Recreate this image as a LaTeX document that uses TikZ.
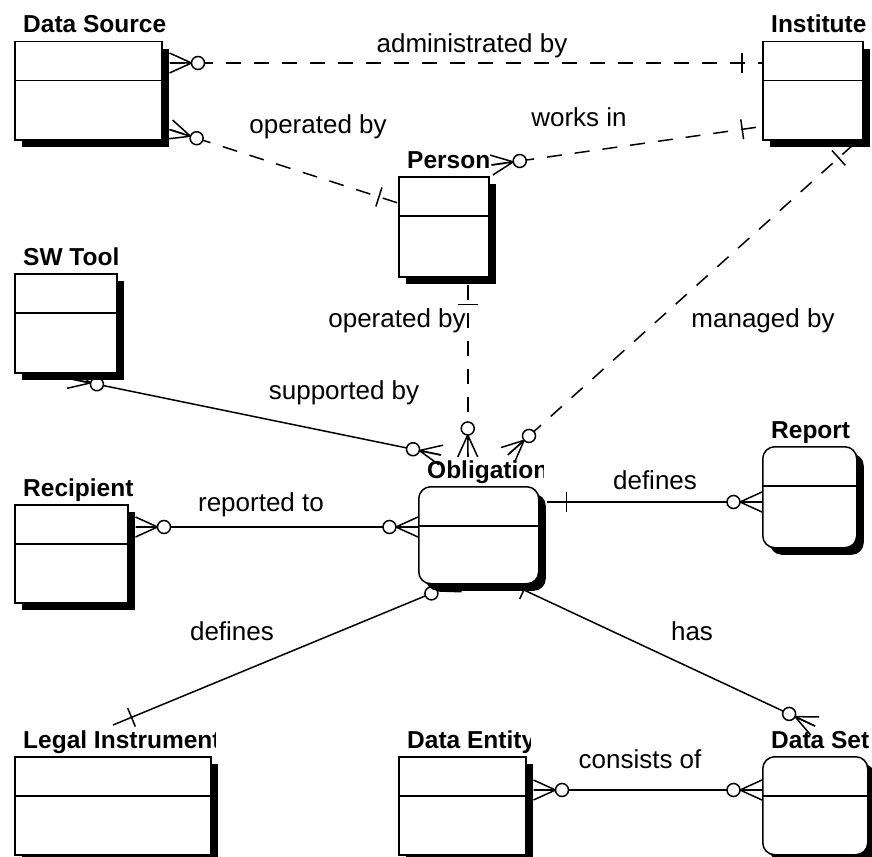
\documentclass[tikz,border=0pt]{standalone}
\usepackage{fontspec}
\setmainfont{Liberation Sans}
\usetikzlibrary{shadows, decorations.markings}
\pgfdeclarelayer{bg}
\pgfsetlayers{bg,main}
\tikzset{
    ent/.style={draw, fill=white, line width=1.5pt, anchor=north west, inner sep=0pt,
        drop shadow={shadow xshift=7pt, shadow yshift=-7pt, fill=black, opacity=1},
        path picture={\draw[line width=1.5pt] ([yshift=-39pt]path picture bounding box.north west) -- ([yshift=-39pt]path picture bounding box.north east);}},
    rent/.style={ent, rounded corners=12pt},
    ttl/.style={anchor=base west, inner sep=0pt, font=\bfseries\fontsize{24.5}{28}\selectfont},
    lbl/.style={anchor=base, inner sep=0pt, font=\fontsize{26}{30}\selectfont},
    rel/.style={line width=1.5pt},
    dsh/.style={dash pattern=on 15pt off 13pt},
    many a/.style={postaction={decorate, decoration={markings, mark=at position 0 with {
        \draw[solid] (0,-10) -- (22,0) (0,0) -- (22,0) (0,10) -- (22,0);
        \draw[solid, fill=white] (28.5,0) circle (6.5pt);}}}},
    many b/.style={postaction={decorate, decoration={markings, mark=at position 0.9999 with {
        \draw[solid] (0,-10) -- (-22,0) (0,0) -- (-22,0) (0,10) -- (-22,0);
        \draw[solid, fill=white] (-28.5,0) circle (6.5pt);}}}},
    one a/.style={postaction={decorate, decoration={markings, mark=at position 20pt with {\draw[solid] (0,-10) -- (0,10);}}}},
    one b/.style={postaction={decorate, decoration={markings, mark=at position -20pt with {\draw[solid] (0,-10) -- (0,10);}}}}
}
\newcommand\enttitle[2]{%
  \begin{scope}
    \clip ([xshift=-2pt]#1.north west) rectangle ([shift={(4pt,36pt)}]#1.north east);
    \node[ttl] (#1-t) at ([shift={(9pt,8pt)}]#1.north west) {#2};
  \end{scope}}

\begin{document}
\begin{tikzpicture}[x=1pt, y=-1pt]
    \useasboundingbox (0,0) rectangle (872,856);

    \node[ent, minimum width=147pt, minimum height=98pt] (dsrc) at (14,41) {};
    \node[ent, minimum width=100pt, minimum height=98pt] (inst) at (762,41) {};
    \node[ent, minimum width=90pt, minimum height=100pt] (pers) at (398,176) {};
    \node[ent, minimum width=102pt, minimum height=99pt] (swt) at (14,273) {};
    \node[rent, minimum width=120pt, minimum height=97pt] (oblg) at (418,486) {};
    \node[rent, minimum width=94pt, minimum height=101pt] (rprt) at (762,446) {};
    \node[ent, minimum width=113pt, minimum height=98pt] (rcpt) at (14,504) {};
    \node[ent, minimum width=196pt, minimum height=98pt] (legi) at (14,756) {};
    \node[ent, minimum width=127pt, minimum height=98pt] (dent) at (398,756) {};
    \node[rent, minimum width=105pt, minimum height=98pt] (dset) at (762,756) {};

    \enttitle{dsrc}{Data Source}
    \enttitle{inst}{Institute}
    \enttitle{pers}{Person}
    \enttitle{swt}{SW Tool}
    \enttitle{oblg}{Obligation}
    \enttitle{rprt}{Report}
    \enttitle{rcpt}{Recipient}
    \enttitle{legi}{Legal Instrument}
    \enttitle{dent}{Data Entity}
    \enttitle{dset}{Data Set}

    \coordinate (adm-a) at ([shift={(7pt,-22pt)}]dsrc.north east);
    \coordinate (opd-a) at ([shift={(7pt,11pt)}]dsrc.south east);
    \coordinate (opd-b) at ([yshift=-27pt]pers.north west);
    \coordinate (wrk-a) at ([shift={(2pt,11pt)}]pers.north east);
    \coordinate (wrk-b) at ([yshift=14pt]inst.south west);
    \coordinate (opm-a) at ([shift={(24pt,-7pt)}]pers.south);
    \coordinate (opm-b) at ([yshift=29pt]oblg.north);
    \coordinate (mng-a) at ([shift={(-10pt,-4pt)}]inst.south east);
    \coordinate (mng-b) at ([shift={(29pt,31pt)}]oblg.north);
    \coordinate (sup-a) at ([shift={(55pt,-5pt)}]swt.south west);
    \coordinate (sup-b) at ([shift={(23pt,31pt)}]oblg.north west);
    \coordinate (rep-a) at ([shift={(7pt,-23pt)}]rcpt.north east);
    \coordinate (dfr-a) at ([shift={(7pt,-16pt)}]oblg.north east);
    \coordinate (dfl-a) at ([shift={(-21pt,2pt)}]oblg.south);
    \coordinate (dfl-b) at ([shift={(99pt,31pt)}]legi.north west);
    \coordinate (has-a) at ([shift={(27pt,3pt)}]oblg.south);
    \coordinate (has-b) at ([shift={(53pt,30pt)}]dset.north west);
    \coordinate (cns-a) at ([shift={(7pt,-34pt)}]dent.north east);

    \begin{pgfonlayer}{bg}
    \draw[rel, dsh, many a, one b] (adm-a) -- (adm-a -| inst.west);
    \draw[rel, dsh, many a, one b] (opd-a) -- (opd-b);
    \draw[rel, dsh, many a, one b] (wrk-a) -- (wrk-b);
    \draw[rel, dsh, one a, many b] (opm-a) -- (opm-a |- opm-b);
    \draw[rel, dsh, one a, many b] (mng-a) -- (mng-b);
    \draw[rel, many a, many b] (sup-a) -- (sup-b);
    \draw[rel, many a, many b] (rep-a) -- (rep-a -| oblg.west);
    \draw[rel, one a, many b] (dfr-a) -- (dfr-a -| rprt.west);
    \draw[rel, many a, one b] (dfl-a) -- (dfl-b);
    \draw[rel, one a, many b] (has-a) -- (has-b);
    \draw[rel, many a, many b] (cns-a) -- (cns-a -| dset.west);
    \end{pgfonlayer}

    \node[lbl] (l-adm) at (472,53) {administrated by};
    \node[lbl] (l-opd) at (318,133) {operated by};
    \node[lbl] (l-wrk) at (579,127) {works in};
    \node[lbl] (l-opm) at (397,327) {operated by};
    \node[lbl] (l-mng) at (763,327) {managed by};
    \node[lbl] (l-sup) at (344,399) {supported by};
    \node[lbl] (l-rep) at (261,511) {reported to};
    \node[lbl] (l-dfr) at (655,489) {defines};
    \node[lbl] (l-dfl) at (232,640) {defines};
    \node[lbl] (l-has) at (692,640) {has};
    \node[lbl] (l-cns) at (640,768) {consists of};
\end{tikzpicture}
\end{document}
